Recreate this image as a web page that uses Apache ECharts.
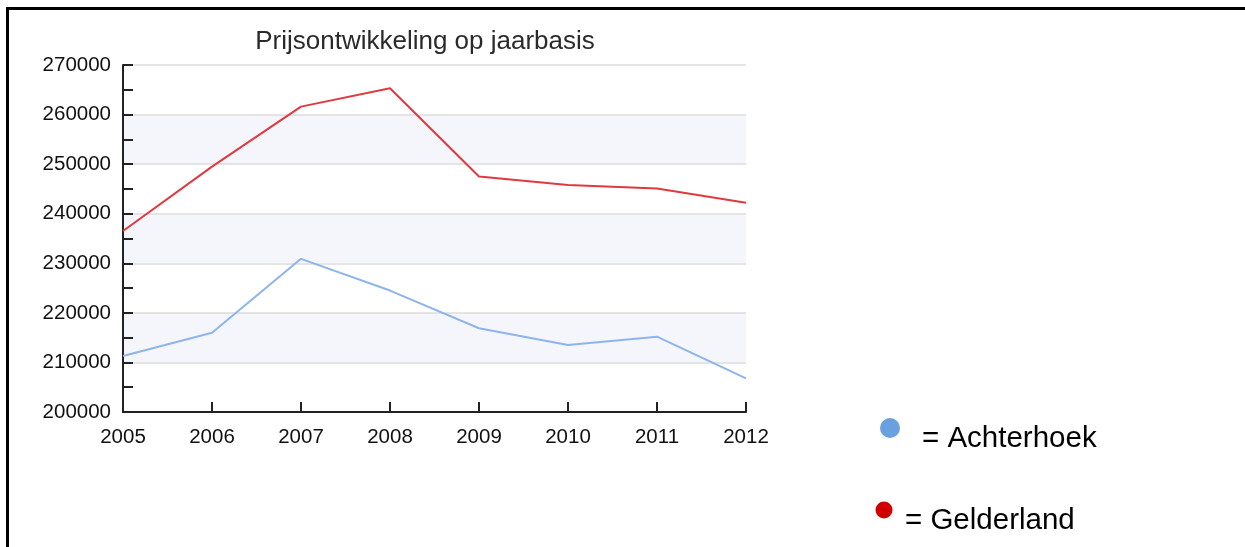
<!DOCTYPE html>
<html>
<head>
<meta charset="utf-8">
<script src="https://cdn.jsdelivr.net/npm/echarts@6/dist/echarts.min.js"></script>
<style>
html,body{margin:0;padding:0;background:#fff;}
#c{width:1245px;height:547px;}
</style>
</head>
<body>
<div id="c"></div>
<script>
var years = ['2005','2006','2007','2008','2009','2010','2011','2012'];
var achterhoek = [211300, 216000, 230900, 224500, 216900, 213500, 215200, 206800];
var gelderland = [236500, 249500, 261600, 265300, 247500, 245800, 245100, 242200];
var yTicks = { min: 200000, max: 270000, interval: 10000 };
var titleText = 'Prijsontwikkeling op jaarbasis';
var legendLabels = ['= Achterhoek', '= Gelderland'];

var chart = echarts.init(document.getElementById('c'));
chart.setOption({
  backgroundColor: '#fff',
  animation: false,
  title: {
    text: titleText,
    left: 420, top: 24, textAlign: 'center',
    textStyle: { fontFamily: 'Liberation Sans', fontSize: 26, fontWeight: 'normal', color: '#2a2a2a' }
  },
  grid: { left: 123, right: 499, top: 65, bottom: 135 },
  xAxis: {
    type: 'category', data: years, boundaryGap: false,
    axisLine: { lineStyle: { color: '#222', width: 2 } },
    axisTick: { inside: true, length: 10, lineStyle: { color: '#222', width: 2 } },
    axisLabel: { fontFamily: 'Liberation Sans', fontSize: 20.5, color: '#111', margin: 15 },
    splitLine: { show: false }
  },
  yAxis: {
    type: 'value', min: yTicks.min, max: yTicks.max, interval: yTicks.interval,
    axisLine: { show: true, lineStyle: { color: '#222', width: 2 } },
    axisTick: { show: true, inside: true, length: 10, lineStyle: { color: '#222', width: 2 } },
    minorTick: { show: true, splitNumber: 2, length: 10, lineStyle: { color: '#222', width: 2 } },
    axisLabel: { fontFamily: 'Liberation Sans', fontSize: 20.5, color: '#111', margin: 12,
      formatter: function (v) { return String(v); } },
    splitLine: { show: true, lineStyle: { color: '#dcdcdc', width: 1.5 } },
    splitArea: { show: true, areaStyle: { color: ['#ffffff', '#f5f6fc'] } }
  },
  series: [
    { name: 'Achterhoek', type: 'line', data: achterhoek, showSymbol: false,
      lineStyle: { color: '#8db5ec', width: 2 }, itemStyle: { color: '#8db5ec' } },
    { name: 'Gelderland', type: 'line', data: gelderland, showSymbol: false,
      lineStyle: { color: '#e0393f', width: 2 }, itemStyle: { color: '#e0393f' } }
  ],
  graphic: [
    { type: 'line', shape: { x1: 7, y1: 8.5, x2: 1245, y2: 8.5 }, style: { stroke: '#000', lineWidth: 3 } },
    { type: 'line', shape: { x1: 7.5, y1: 7, x2: 7.5, y2: 547 }, style: { stroke: '#000', lineWidth: 3 } },
    { type: 'circle', shape: { cx: 890, cy: 428, r: 10 }, style: { fill: '#68a0e0' } },
    { type: 'text', left: 922, top: 424, style: { text: legendLabels[0], font: '29.5px "Liberation Sans"', fill: '#000' } },
    { type: 'circle', shape: { cx: 884, cy: 510, r: 8.5 }, style: { fill: '#d00000' } },
    { type: 'text', left: 905, top: 506, style: { text: legendLabels[1], font: '29.5px "Liberation Sans"', fill: '#000' } }
  ]
});
</script>
</body>
</html>
